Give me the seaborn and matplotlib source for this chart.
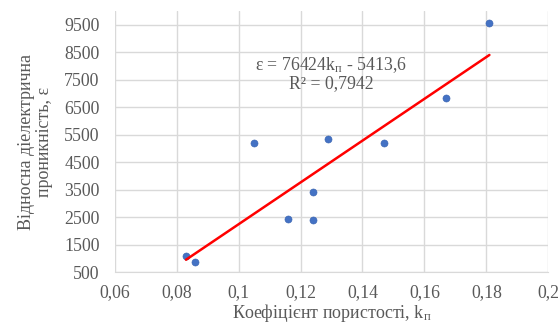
import numpy as np
import pandas as pd
import seaborn as sns
import matplotlib.pyplot as plt
from matplotlib.ticker import FuncFormatter, MultipleLocator

# porosity coefficient vs relative permittivity
k_p = [0.083, 0.086, 0.105, 0.116, 0.124, 0.124, 0.129, 0.147, 0.167, 0.181]
eps = [1100, 850, 5200, 2450, 2400, 3400, 5350, 5200, 6850, 9550]

eq_text = "ε = 76424k$_{\\mathregular{п}}$ - 5413,6\nR² = 0,7942"
x_label = "Коефіцієнт пористості, k$_{\\mathregular{п}}$"
y_label = "Відносна діелектрична\nпроникність, ε"

sns.set_style("white")
plt.rcParams["font.family"] = ["Liberation Serif", "DejaVu Serif"]
plt.rcParams["mathtext.fontset"] = "custom"
plt.rcParams["mathtext.rm"] = "Liberation Serif"
plt.rcParams["mathtext.it"] = "Liberation Serif"

df = pd.DataFrame({"k": k_p, "eps": eps})

fig = plt.figure(figsize=(5.6, 3.27), dpi=100)
ax = fig.add_axes([0.205, 0.168, 0.774, 0.798])

grid_col = "#d9d9d9"
text_col = "#595959"

sns.scatterplot(data=df, x="k", y="eps", ax=ax, color="#4472C4", s=26,
                edgecolor="#3a64b0", linewidth=0.4, zorder=3)
sns.regplot(data=df, x="k", y="eps", ax=ax, scatter=False, ci=None,
            truncate=True, line_kws={"color": "#ff0000", "lw": 1.8, "zorder": 4})

ax.set_xlim(0.06, 0.2)
ax.set_ylim(500, 10000)
ax.xaxis.set_major_locator(MultipleLocator(0.02))
ax.set_yticks(np.arange(500, 10000, 1000))
ax.xaxis.set_major_formatter(FuncFormatter(lambda v, p: f"{v:.2f}".rstrip("0").replace(".", ",")))
ax.yaxis.set_major_formatter(FuncFormatter(lambda v, p: f"{v:.0f}"))

ax.grid(True, color=grid_col, lw=1.0)
ax.set_axisbelow(True)
for s in ["top", "right", "left"]:
    ax.spines[s].set_visible(False)
ax.spines["bottom"].set_color(grid_col)
ax.tick_params(axis="both", length=0, labelsize=12.8, colors=text_col)
ax.tick_params(axis="x", pad=9)
ax.tick_params(axis="y", pad=11)

ax.set_xlabel(x_label, fontsize=13, color=text_col, labelpad=0)
ax.set_ylabel(y_label, fontsize=13, color=text_col, labelpad=8, linespacing=1.1)

ax.text(0.1298, 7730, eq_text, ha="center", va="center", fontsize=12.8,
        color=text_col, linespacing=1.05)

fig.savefig("out.png", dpi=100)
